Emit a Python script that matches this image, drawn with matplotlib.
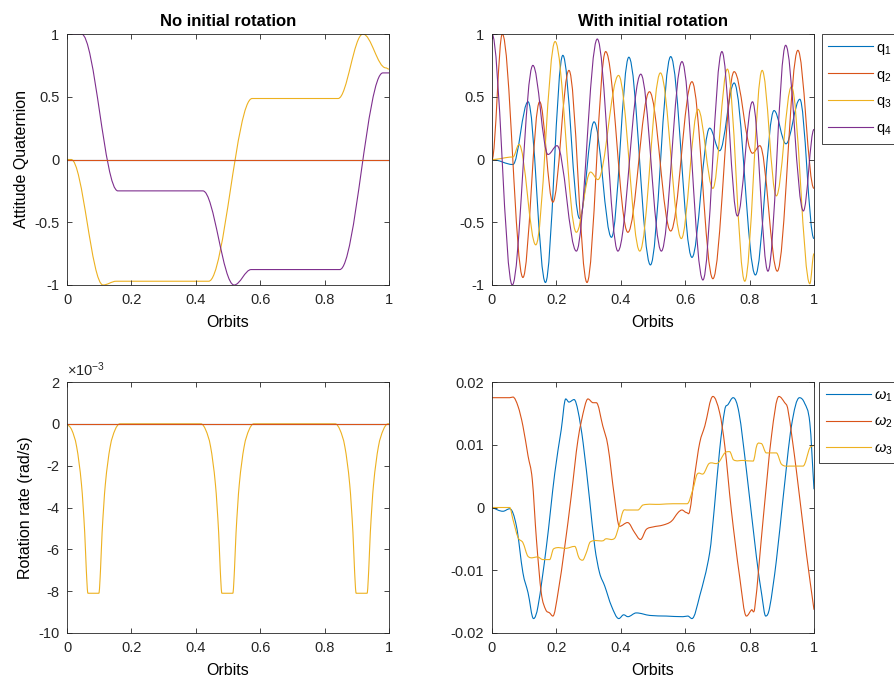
import matplotlib
matplotlib.use('Agg')
import matplotlib.pyplot as plt
from matplotlib.path import Path
from matplotlib.patches import PathPatch
from matplotlib.lines import Line2D
from matplotlib.ticker import FormatStrFormatter, FuncFormatter

plt.rcParams['font.family'] = ['Liberation Sans', 'DejaVu Sans']
plt.rcParams['axes.unicode_minus'] = False
plt.rcParams['mathtext.fontset'] = 'custom'
plt.rcParams['mathtext.rm'] = 'Liberation Sans'
plt.rcParams['mathtext.it'] = 'Liberation Sans:italic'

# MATLAB default line colours
colors = ['#0072BD', '#D95319', '#EDB120', '#7E2F8E']

# ---- top left: no initial rotation, quaternion (turning points) ----
nr_q12_t = [0, 1]
nr_q12 = [0, 0]
nr_q3_t = [0, 0.013, 0.112, 0.153, 0.44, 0.575, 0.842, 0.919, 0.99, 1.0]
nr_q3 = [0, 0, -1.0, -0.97, -0.97, 0.486, 0.486, 1.0, 0.73, 0.72]
nr_q4_t = [0, 0.045, 0.158, 0.422, 0.519, 0.572, 0.847, 0.981, 1.0]
nr_q4 = [1, 1, -0.25, -0.25, -1.0, -0.877, -0.877, 0.69, 0.69]

# ---- top right: with initial rotation, quaternion (turning points) ----
wr_q1_t = [0, 0.065, 0.112, 0.166, 0.220, 0.272, 0.317, 0.371, 0.425, 0.492,
           0.555, 0.621, 0.676, 0.707, 0.752, 0.818, 0.876, 0.913, 0.956, 1.0]
wr_q1 = [0, -0.04, 0.46, -0.98, 0.83, -0.47, 0.30, -0.62, 0.815, -0.84,
         0.82, -0.78, 0.25, 0.07, 0.61, -0.92, 0.39, 0.125, 0.48, -0.63]
wr_q2_t = [0, 0.032, 0.096, 0.148, 0.189, 0.239, 0.295, 0.353, 0.422, 0.489,
           0.555, 0.621, 0.686, 0.752, 0.809, 0.832, 0.886, 0.950, 1.0]
wr_q2 = [0, 1.0, -0.94, 0.46, -0.34, 0.71, -0.98, 0.86, -0.58, 0.54,
         -0.57, 0.62, -0.95, 0.70, 0.05, 0.11, -0.89, 0.87, -0.23]
wr_q3_t = [0, 0.065, 0.084, 0.136, 0.196, 0.262, 0.306, 0.329, 0.393, 0.459,
           0.523, 0.588, 0.640, 0.686, 0.731, 0.785, 0.839, 0.883, 0.930, 0.987, 1.0]
wr_q3 = [0, 0.02, 0.12, -0.68, 0.94, -0.58, -0.10, -0.16, 0.67, -0.73,
         0.69, -0.63, 0.40, -0.23, 0.72, -0.97, 0.71, -0.29, 0.58, -0.99, -0.75]
wr_q4_t = [0, 0.063, 0.127, 0.174, 0.202, 0.262, 0.327, 0.391, 0.462, 0.526,
           0.590, 0.655, 0.714, 0.762, 0.809, 0.857, 0.912, 0.967, 1.0]
wr_q4 = [1.0, -1.0, 0.75, 0.04, 0.11, -0.73, 0.96, -0.73, 0.68, -0.73,
         0.78, -0.96, 0.86, -0.45, 0.46, -0.89, 0.91, -0.41, 0.24]

# ---- bottom left: no initial rotation, body rates ----
nr_w12_t = [0, 1]
nr_w12 = [0, 0]
nr_w3_t = [0, 0.015, 0.03, 0.045, 0.055, 0.060, 0.065, 0.099, 0.104, 0.109, 0.119, 0.134, 0.149, 0.164,
           0.416, 0.431, 0.446, 0.461, 0.471, 0.476, 0.481, 0.515, 0.520, 0.525, 0.535, 0.550, 0.565, 0.580,
           0.833, 0.848, 0.863, 0.878, 0.888, 0.893, 0.898, 0.932, 0.937, 0.942, 0.952, 0.967, 0.982, 0.997, 1.0]
nr_w3 = [0, -0.0003, -0.0011, -0.0029, -0.0052, -0.0070, -0.0081, -0.0081, -0.0070, -0.0052, -0.0029, -0.0011, -0.0003, 0,
         0, -0.0003, -0.0011, -0.0029, -0.0052, -0.0070, -0.0081, -0.0081, -0.0070, -0.0052, -0.0029, -0.0011, -0.0003, 0,
         0, -0.0003, -0.0011, -0.0029, -0.0052, -0.0070, -0.0081, -0.0081, -0.0070, -0.0052, -0.0029, -0.0011, -0.0003, 0, 0]

# ---- bottom right: with initial rotation, body rates ----
wr_w1_t = [0, 0.034, 0.055, 0.076, 0.096, 0.112, 0.129, 0.143, 0.169, 0.195,
           0.215, 0.229, 0.239, 0.255, 0.267, 0.283, 0.303, 0.319, 0.334, 0.350,
           0.371, 0.394, 0.409, 0.422, 0.448, 0.490, 0.541, 0.593, 0.608, 0.621,
           0.645, 0.676, 0.691, 0.707, 0.723, 0.733, 0.749, 0.767, 0.790, 0.821,
           0.838, 0.850, 0.862, 0.883, 0.904, 0.930, 0.955, 0.971, 0.987, 1.0]
wr_w1 = [0, -0.0006, -0.0002, -0.0030, -0.0104, -0.0136, -0.0177, -0.0157, -0.0062, 0.0055,
         0.0124, 0.0173, 0.0168, 0.0172, 0.0154, 0.0103, 0.0013, -0.0062, -0.0104, -0.0125,
         -0.0157, -0.0177, -0.0171, -0.0174, -0.0168, -0.0172, -0.0173, -0.0174, -0.0173, -0.0177,
         -0.0141, -0.0072, 0.0002, 0.0092, 0.0156, 0.0164, 0.0175, 0.0151, 0.0060, -0.0078,
         -0.0140, -0.0173, -0.0160, -0.0085, 0.0015, 0.0130, 0.0175, 0.0166, 0.0135, 0.0029]
wr_w2_t = [0, 0.055, 0.065, 0.081, 0.096, 0.112, 0.125, 0.138, 0.153, 0.167,
           0.179, 0.189, 0.205, 0.226, 0.246, 0.267, 0.288, 0.298, 0.314, 0.324,
           0.344, 0.360, 0.380, 0.396, 0.421, 0.443, 0.461, 0.479, 0.500, 0.531,
           0.557, 0.578, 0.590, 0.604, 0.614, 0.629, 0.645, 0.661, 0.686, 0.707,
           0.723, 0.743, 0.769, 0.790, 0.806, 0.816, 0.842, 0.868, 0.891, 0.909,
           0.919, 0.945, 0.976, 1.0]
wr_w2 = [0.0175, 0.0175, 0.0176, 0.0161, 0.0130, 0.0082, 0.0045, -0.0051, -0.0136, -0.0163,
         -0.0168, -0.0173, -0.0136, -0.0062, 0.0018, 0.0108, 0.0161, 0.0173, 0.0167, 0.0167,
         0.0130, 0.0098, 0.0018, -0.0030, -0.0024, -0.0040, -0.0051, -0.0035, -0.0031, -0.0028,
         -0.0022, -0.0008, -0.0004, -0.0008, -0.0006, 0.0050, 0.0103, 0.0130, 0.0177, 0.0151,
         0.0098, -0.0003, -0.0110, -0.0173, -0.0163, -0.0160, -0.0019, 0.0114, 0.0177, 0.0167,
         0.0156, 0.0060, -0.0072, -0.0163]
wr_w3_t = [0, 0.055, 0.065, 0.081, 0.096, 0.112, 0.143, 0.158, 0.179, 0.191,
           0.231, 0.257, 0.270, 0.281, 0.293, 0.305, 0.345, 0.353, 0.381, 0.394,
           0.407, 0.417, 0.453, 0.469, 0.521, 0.562, 0.606, 0.624, 0.637, 0.657,
           0.674, 0.702, 0.723, 0.738, 0.750, 0.780, 0.811, 0.823, 0.836, 0.852,
           0.883, 0.899, 0.924, 0.966, 0.987, 1.0]
wr_w3 = [0, 0, -0.0019, -0.0048, -0.0056, -0.0078, -0.0079, -0.0083, -0.0083, -0.0066,
         -0.0065, -0.0062, -0.0080, -0.0084, -0.0072, -0.0055, -0.0053, -0.0050, -0.0049, -0.0030,
         -0.0006, -0.0004, -0.0004, 0.0004, 0.0005, 0.0006, 0.0006, 0.0029, 0.0053, 0.0054,
         0.0070, 0.0071, 0.0087, 0.0089, 0.0076, 0.0075, 0.0074, 0.0100, 0.0102, 0.0087,
         0.0087, 0.0069, 0.0066, 0.0066, 0.0095, 0.0099]

q_labels = ['q$_1$', 'q$_2$', 'q$_3$', 'q$_4$']
w_labels = [r'$\omega_1$', r'$\omega_2$', r'$\omega_3$']
x_ticks = [0, 0.2, 0.4, 0.6, 0.8, 1]


def smooth_curve(ax, t, v, color, flat_only=True):
    # cubic bezier through the given points; flat tangent at turning points,
    # otherwise tangent from the neighbouring points
    n = len(t)
    slopes = []
    for i in range(n):
        if i == 0:
            s = 0 if flat_only else (v[1] - v[0]) / (t[1] - t[0])
        elif i == n - 1:
            s = 0 if flat_only else (v[-1] - v[-2]) / (t[-1] - t[-2])
        elif flat_only or (v[i] - v[i - 1]) * (v[i + 1] - v[i]) <= 0:
            s = 0
        else:
            s = (v[i + 1] - v[i - 1]) / (t[i + 1] - t[i - 1])
        slopes.append(s)
    verts = [(t[0], v[0])]
    codes = [Path.MOVETO]
    for i in range(n - 1):
        dt = t[i + 1] - t[i]
        h0 = (0.36 if slopes[i] == 0 else 1 / 3) * dt
        h1 = (0.36 if slopes[i + 1] == 0 else 1 / 3) * dt
        verts += [(t[i] + h0, v[i] + slopes[i] * h0),
                  (t[i + 1] - h1, v[i + 1] - slopes[i + 1] * h1),
                  (t[i + 1], v[i + 1])]
        codes += [Path.CURVE4] * 3
    ax.add_patch(PathPatch(Path(verts, codes), fill=False, edgecolor=color, lw=0.8))


def style(ax):
    ax.set_xlim(0, 1)
    ax.set_xticks(x_ticks)
    ax.xaxis.set_major_formatter(FormatStrFormatter('%g'))
    ax.tick_params(direction='in', top=True, right=True, length=3.5, width=0.6,
                   colors='#262626', labelsize=10.5, pad=5.5)
    for s in ax.spines.values():
        s.set_color('#262626')
        s.set_linewidth(0.6)
    ax.set_xlabel('Orbits', fontsize=11.5, labelpad=6)


def add_legend(ax, handles, labels, x0):
    leg = ax.legend(handles, labels, loc='upper left', bbox_to_anchor=(x0, 1.0), borderaxespad=0,
                    fancybox=False, edgecolor='#262626', framealpha=1, fontsize=10.5,
                    handlelength=3.1, labelspacing=0.75, handletextpad=0.2, borderpad=0.45)
    leg.get_frame().set_linewidth(0.6)


fig = plt.figure(figsize=(8.94, 6.86), dpi=100)
W, H = 894, 686
ax_tl = fig.add_axes([67 / W, (H - 285) / H, 322 / W, 251 / H])
ax_tr = fig.add_axes([492 / W, (H - 285) / H, 322 / W, 251 / H])
ax_bl = fig.add_axes([67 / W, (H - 633) / H, 322 / W, 251 / H])
ax_br = fig.add_axes([492 / W, (H - 633) / H, 322 / W, 251 / H])

# top left
ax_tl.plot(nr_q12_t, nr_q12, color=colors[0], lw=0.8)
ax_tl.plot(nr_q12_t, nr_q12, color=colors[1], lw=0.8)
smooth_curve(ax_tl, nr_q3_t, nr_q3, colors[2])
smooth_curve(ax_tl, nr_q4_t, nr_q4, colors[3])
ax_tl.set_ylim(-1, 1)
ax_tl.set_yticks([-1, -0.5, 0, 0.5, 1])
ax_tl.yaxis.set_major_formatter(FormatStrFormatter('%g'))
ax_tl.set_ylabel('Attitude Quaternion', fontsize=11.5)
ax_tl.set_title('No initial rotation', fontsize=12, fontweight='bold', pad=6)
style(ax_tl)

# top right
for t, v, c in zip([wr_q1_t, wr_q2_t, wr_q3_t, wr_q4_t], [wr_q1, wr_q2, wr_q3, wr_q4], colors):
    smooth_curve(ax_tr, t, v, c)
ax_tr.set_ylim(-1, 1)
ax_tr.set_yticks([-1, -0.5, 0, 0.5, 1])
ax_tr.yaxis.set_major_formatter(FormatStrFormatter('%g'))
ax_tr.set_title('With initial rotation', fontsize=12, fontweight='bold', pad=6)
style(ax_tr)
handles = [Line2D([], [], color=c, lw=0.8) for c in colors]
add_legend(ax_tr, handles, q_labels, 1.024)

# bottom left
ax_bl.plot(nr_w12_t, nr_w12, color=colors[0], lw=0.8)
smooth_curve(ax_bl, nr_w3_t, nr_w3, colors[2], flat_only=False)
ax_bl.plot(nr_w12_t, nr_w12, color=colors[1], lw=0.8)
ax_bl.set_ylim(-0.01, 0.002)
ax_bl.set_yticks([-0.01, -0.008, -0.006, -0.004, -0.002, 0, 0.002])
ax_bl.yaxis.set_major_formatter(FuncFormatter(lambda v, p: '%g' % round(v * 1e3, 6)))
ax_bl.text(0.0, 1.012, r'$\times$10$^{-3}$', transform=ax_bl.transAxes,
           fontsize=10.5, color='#262626', ha='left', va='bottom')
ax_bl.set_ylabel('Rotation rate (rad/s)', fontsize=11.5)
style(ax_bl)

# bottom right
for t, v, c in zip([wr_w1_t, wr_w2_t, wr_w3_t], [wr_w1, wr_w2, wr_w3], colors):
    smooth_curve(ax_br, t, v, c, flat_only=False)
ax_br.set_ylim(-0.02, 0.02)
ax_br.set_yticks([-0.02, -0.01, 0, 0.01, 0.02])
ax_br.yaxis.set_major_formatter(FormatStrFormatter('%g'))
style(ax_br)
add_legend(ax_br, handles[:3], w_labels, 1.017)

fig.savefig('out.png', dpi=100)
